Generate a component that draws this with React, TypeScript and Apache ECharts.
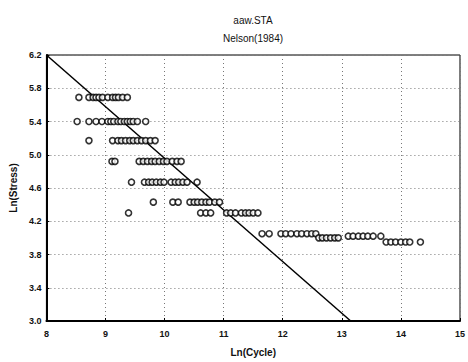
import React, { useEffect, useRef } from "react";
import * as echarts from "echarts";

const titleLines = ["aaw.STA", "Nelson(1984)"];
const xAxisName = "Ln(Cycle)";
const yAxisName = "Ln(Stress)";

// observed points: [ln(cycle), ln(stress)]
const row1X = [8.55, 8.72, 8.79, 8.84, 8.89, 8.95, 9.04, 9.12, 9.17, 9.22, 9.29, 9.37];
const row1Y = 5.69;
const row2X = [8.52, 8.72, 8.84, 8.94, 9.04, 9.09, 9.14, 9.21, 9.26, 9.32, 9.37, 9.42, 9.47, 9.54, 9.68];
const row2Y = 5.4;
const row3X = [8.72, 9.12, 9.21, 9.27, 9.34, 9.41, 9.47, 9.54, 9.61, 9.68, 9.76, 9.84];
const row3Y = 5.17;
const row4X = [9.11, 9.16, 9.57, 9.64, 9.71, 9.78, 9.84, 9.91, 9.98, 10.04, 10.13, 10.21, 10.28];
const row4Y = 4.92;
const row5X = [9.44, 9.66, 9.73, 9.79, 9.86, 9.93, 9.99, 10.11, 10.18, 10.24, 10.31, 10.38, 10.55];
const row5Y = 4.67;
const row6X = [9.81, 10.14, 10.23, 10.43, 10.5, 10.56, 10.63, 10.7, 10.76, 10.85, 10.93];
const row6Y = 4.43;
const row7X = [9.39, 10.61, 10.7, 10.78, 11.05, 11.12, 11.2, 11.3, 11.37, 11.43, 11.5, 11.58];
const row7Y = 4.3;
const row8X = [11.65, 11.77, 11.97, 12.05, 12.14, 12.24, 12.32, 12.41, 12.49, 12.56];
const row8Y = 4.05;
const row9X = [12.61, 12.67, 12.74, 12.81, 12.88, 12.94];
const row9Y = 4.0;
const row10X = [13.11, 13.19, 13.28, 13.36, 13.44, 13.53, 13.66];
const row10Y = 4.02;
const row11X = [13.75, 13.83, 13.91, 14.0, 14.08, 14.15, 14.33];
const row11Y = 3.95;

const fitLineX = [8, 13.15];
const fitLineY = [6.2, 3.0];

const rows: [number[], number][] = [
  [row1X, row1Y], [row2X, row2Y], [row3X, row3Y], [row4X, row4Y],
  [row5X, row5Y], [row6X, row6Y], [row7X, row7Y], [row8X, row8Y],
  [row9X, row9Y], [row10X, row10Y], [row11X, row11Y],
];

const FONT = "'Liberation Sans Narrow', 'Liberation Sans', Arial, sans-serif";

export default function App() {
  const ref = useRef<HTMLDivElement>(null);
  useEffect(() => {
    if (!ref.current) return;
    const chart = echarts.init(ref.current, null, { renderer: "svg" });
    const points: number[][] = [];
    rows.forEach(([xs, y]) => xs.forEach((x) => points.push([x, y])));
    const gridLine = { show: true, lineStyle: { color: "#777", type: [1, 3] as any, width: 1 } };
    chart.setOption({
      animation: false,
      backgroundColor: "#fff",
      title: [
        { text: titleLines[0], left: 248, top: 10, textAlign: "center",
          textStyle: { fontFamily: FONT, fontSize: 10, fontWeight: "normal", color: "#111" } },
        { text: titleLines[1], left: 248, top: 28, textAlign: "center",
          textStyle: { fontFamily: FONT, fontSize: 10, fontWeight: "normal", color: "#111" } },
      ],
      grid: { left: 45, right: 5, top: 55, bottom: 41, show: true, borderColor: "#000", borderWidth: 1 },
      xAxis: {
        type: "value", min: 8, max: 15, interval: 1,
        name: xAxisName, nameLocation: "middle", nameGap: 26,
        nameTextStyle: { fontFamily: FONT, fontSize: 10, fontWeight: "bold", color: "#111" },
        axisLine: { show: true, lineStyle: { color: "#000", width: 2 } },
        axisTick: { show: true, inside: true, length: 3, lineStyle: { color: "#000" } },
        axisLabel: { fontFamily: FONT, fontSize: 9, fontWeight: "bold", color: "#111", margin: 8 },
        splitLine: gridLine,
      },
      yAxis: {
        type: "value", min: 3.0, max: 6.2, interval: 0.4,
        name: yAxisName, nameLocation: "middle", nameGap: 28, nameRotate: 90,
        nameTextStyle: { fontFamily: FONT, fontSize: 10, fontWeight: "bold", color: "#111" },
        axisLine: { show: true, lineStyle: { color: "#000", width: 2 } },
        axisTick: { show: true, inside: true, length: 3, lineStyle: { color: "#000" } },
        axisLabel: { fontFamily: FONT, fontSize: 9, fontWeight: "bold", color: "#111", margin: 5,
          formatter: (v: number) => v.toFixed(1) },
        splitLine: gridLine,
      },
      series: [
        {
          type: "scatter", data: points, symbol: "circle", symbolSize: 6,
          itemStyle: { color: "#fff", borderColor: "#000", borderWidth: 1.6 },
          z: 3,
        },
        {
          type: "line", data: fitLineX.map((x, i) => [x, fitLineY[i]]),
          showSymbol: false, lineStyle: { color: "#000", width: 1.5 }, z: 2,
        },
      ],
    });
    return () => chart.dispose();
  }, []);
  return <div ref={ref} style={{ width: 468, height: 362, position: "absolute", left: 0, top: 0 }} />;
}
